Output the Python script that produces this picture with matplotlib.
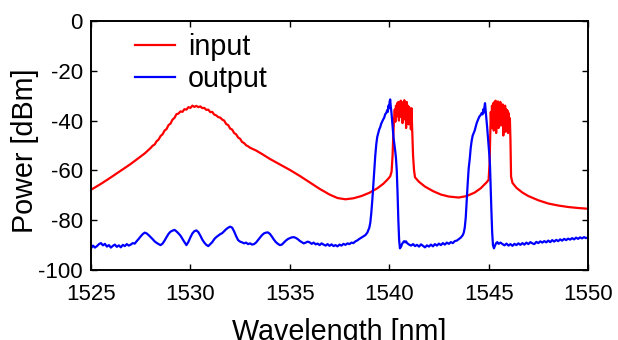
import matplotlib
matplotlib.use("Agg")
import matplotlib.pyplot as plt
import numpy as np

plt.rcParams['font.family'] = ['Liberation Sans', 'DejaVu Sans']

# Input spectrum (red)
input_wl = [
    1525.0, 1525.5, 1526.0, 1526.5, 1527.0, 1527.4, 1527.7, 1528.0,
    1528.1, 1528.2, 1528.3, 1528.4, 1528.5, 1528.6, 1528.7, 1528.8, 1528.9, 1529.0,
    1529.1, 1529.2, 1529.3, 1529.4, 1529.5, 1529.6, 1529.7, 1529.8, 1529.9, 1530.0,
    1530.1, 1530.2, 1530.3, 1530.4, 1530.5, 1530.6, 1530.7, 1530.8, 1530.9, 1531.0,
    1531.1, 1531.2, 1531.3, 1531.4, 1531.5, 1531.6, 1531.7, 1531.8, 1531.9, 1532.0,
    1532.1, 1532.2, 1532.3, 1532.4, 1532.5, 1532.6, 1532.7, 1532.8, 1532.9, 1533.0,
    1533.3, 1533.6, 1534.0, 1534.5, 1535.0, 1535.5, 1536.0, 1536.5, 1537.0, 1537.4,
    1537.8, 1538.2, 1538.6, 1539.0, 1539.4, 1539.7, 1539.9, 1540.05, 1540.12, 1540.17,
    1540.2, 1540.24, 1540.28, 1540.31, 1540.34, 1540.37, 1540.40, 1540.43, 1540.46, 1540.49,
    1540.52, 1540.55, 1540.58, 1540.61, 1540.64, 1540.67, 1540.70, 1540.73, 1540.76, 1540.79,
    1540.82, 1540.85, 1540.88, 1540.91, 1540.94, 1540.97, 1541.00, 1541.03, 1541.06, 1541.09,
    1541.12, 1541.16, 1541.2, 1541.25, 1541.3, 1541.5, 1541.8, 1542.2, 1542.6, 1543.0,
    1543.5, 1543.9, 1544.3, 1544.6, 1544.9, 1545.0, 1545.05, 1545.08, 1545.11, 1545.14,
    1545.17, 1545.20, 1545.23, 1545.26, 1545.29, 1545.32, 1545.35, 1545.38, 1545.41, 1545.44,
    1545.47, 1545.50, 1545.53, 1545.56, 1545.59, 1545.62, 1545.65, 1545.68, 1545.71, 1545.74,
    1545.77, 1545.80, 1545.83, 1545.86, 1545.89, 1545.92, 1545.95, 1545.98, 1546.01, 1546.04,
    1546.07, 1546.10, 1546.13, 1546.2, 1546.4, 1546.7, 1547.0, 1547.5, 1548.0, 1548.5,
    1549.0, 1549.5, 1550.0,
]
input_dbm = [
    -67.8, -65.4, -62.8, -60.1, -57.4, -55.0, -53.2, -51.0,
    -50.1, -49.6, -48.3, -47.6, -46.2, -45.5, -44.0, -43.4, -41.8, -41.2,
    -39.6, -38.9, -37.4, -37.2, -36.3, -36.5, -35.4, -35.6, -34.6, -34.9,
    -34.0, -34.5, -34.1, -34.6, -34.3, -35.0, -34.9, -35.7, -35.6, -36.6,
    -36.5, -37.6, -37.9, -38.6, -38.8, -39.6, -40.0, -41.4, -41.8, -43.2,
    -43.6, -45.0, -45.5, -46.8, -47.3, -48.6, -49.0, -49.9, -50.3, -50.9,
    -52.0, -53.4, -55.4, -57.6, -59.8, -62.2, -64.8, -67.4, -69.7, -71.1,
    -71.6, -71.2, -70.3, -69.0, -67.2, -65.4, -63.8, -62.4, -60.5, -54.0,
    -47.0, -40.0, -35.5, -40.5, -34.0, -38.5, -33.0, -37.5, -32.5, -40.0,
    -33.0, -38.5, -32.0, -37.0, -33.5, -41.0, -32.5, -36.5, -31.8, -39.5,
    -33.0, -43.0, -32.5, -38.0, -34.0, -41.5, -34.5, -39.0, -36.0, -43.5,
    -35.0, -45.0, -54.0, -60.0, -62.8, -64.6, -66.5, -68.3, -69.7, -70.5,
    -70.9, -70.3, -68.9, -67.2, -64.8, -63.8, -57.0, -47.0, -36.5, -43.0,
    -34.0, -41.0, -33.0, -44.0, -32.5, -39.0, -32.0, -45.0, -33.0, -38.0,
    -32.3, -43.0, -33.0, -37.5, -32.5, -42.0, -34.0, -39.0, -33.5, -46.0,
    -35.0, -40.0, -34.0, -44.5, -35.5, -41.0, -36.0, -45.0, -37.0, -42.0,
    -39.0, -48.0, -62.5, -65.0, -67.0, -68.9, -70.3, -72.0, -73.3, -74.1,
    -74.7, -75.1, -75.4,
]

# Output spectrum (blue)
output_wl = [
    1525.0, 1525.1, 1525.2, 1525.3, 1525.4, 1525.5, 1525.6, 1525.7, 1525.8, 1525.9,
    1526.0, 1526.1, 1526.2, 1526.3, 1526.4, 1526.5, 1526.6, 1526.7, 1526.8, 1526.9,
    1527.0, 1527.1, 1527.2, 1527.3, 1527.4, 1527.5, 1527.6, 1527.7, 1527.8, 1527.9,
    1528.0, 1528.1, 1528.2, 1528.3, 1528.4, 1528.5, 1528.6, 1528.7, 1528.8, 1528.9,
    1529.0, 1529.1, 1529.2, 1529.3, 1529.4, 1529.5, 1529.6, 1529.7, 1529.8, 1529.9,
    1530.0, 1530.1, 1530.2, 1530.3, 1530.4, 1530.5, 1530.6, 1530.7, 1530.8, 1530.9,
    1531.0, 1531.1, 1531.2, 1531.3, 1531.4, 1531.5, 1531.6, 1531.7, 1531.8, 1531.9,
    1532.0, 1532.1, 1532.2, 1532.3, 1532.4, 1532.5, 1532.6, 1532.7, 1532.8, 1532.9,
    1533.0, 1533.1, 1533.2, 1533.3, 1533.4, 1533.5, 1533.6, 1533.7, 1533.8, 1533.9,
    1534.0, 1534.1, 1534.2, 1534.3, 1534.4, 1534.5, 1534.6, 1534.7, 1534.8, 1534.9,
    1535.0, 1535.1, 1535.2, 1535.3, 1535.4, 1535.5, 1535.6, 1535.7, 1535.8, 1535.9,
    1536.0, 1536.1, 1536.2, 1536.3, 1536.4, 1536.5, 1536.6, 1536.7, 1536.8, 1536.9,
    1537.0, 1537.1, 1537.2, 1537.3, 1537.4, 1537.5, 1537.6, 1537.7, 1537.8, 1537.9,
    1538.0, 1538.1, 1538.2, 1538.3, 1538.4, 1538.5, 1538.6, 1538.7, 1538.8, 1538.9,
    1539.0, 1539.05, 1539.1, 1539.15, 1539.2, 1539.25, 1539.3, 1539.35, 1539.4, 1539.5,
    1539.55, 1539.6, 1539.7, 1539.75, 1539.8, 1539.85, 1539.9, 1539.93, 1539.96, 1540.0,
    1540.02, 1540.05, 1540.08, 1540.11, 1540.14, 1540.18, 1540.22, 1540.26, 1540.3, 1540.34,
    1540.38, 1540.42, 1540.46, 1540.5, 1540.54, 1540.6, 1540.65, 1540.7, 1540.75, 1540.8,
    1540.85, 1540.9, 1541.0, 1541.1, 1541.2, 1541.3, 1541.4, 1541.5, 1541.6, 1541.7,
    1541.8, 1541.9, 1542.0, 1542.1, 1542.2, 1542.3, 1542.4, 1542.5, 1542.6, 1542.7,
    1542.8, 1542.9, 1543.0, 1543.1, 1543.2, 1543.3, 1543.4, 1543.5, 1543.6, 1543.7,
    1543.75, 1543.8, 1543.85, 1543.9, 1543.95, 1544.0, 1544.05, 1544.1, 1544.15, 1544.2,
    1544.3, 1544.35, 1544.4, 1544.45, 1544.5, 1544.55, 1544.6, 1544.65, 1544.7, 1544.73,
    1544.76, 1544.8, 1544.82, 1544.85, 1544.88, 1544.92, 1544.96, 1545.0, 1545.04, 1545.07,
    1545.1, 1545.14, 1545.18, 1545.22, 1545.27, 1545.32, 1545.38, 1545.44, 1545.5, 1545.6,
    1545.7, 1545.8, 1545.9, 1546.0, 1546.1, 1546.2, 1546.3, 1546.4, 1546.5, 1546.6,
    1546.7, 1546.8, 1546.9, 1547.0, 1547.1, 1547.2, 1547.3, 1547.4, 1547.5, 1547.6,
    1547.7, 1547.8, 1547.9, 1548.0, 1548.1, 1548.2, 1548.3, 1548.4, 1548.5, 1548.6,
    1548.7, 1548.8, 1548.9, 1549.0, 1549.1, 1549.2, 1549.3, 1549.4, 1549.5, 1549.6,
    1549.7, 1549.8, 1549.9, 1550.0,
]
output_dbm = [
    -91.3, -90.2, -91.0, -90.4, -89.6, -89.2, -90.1, -89.5, -90.6, -90.0,
    -91.0, -90.3, -89.8, -90.7, -90.1, -90.9, -89.9, -90.4, -89.6, -90.2,
    -89.8, -89.2, -89.4, -88.4, -87.5, -86.5, -85.6, -85.0, -85.3, -86.0,
    -86.8, -87.6, -88.5, -89.1, -89.6, -90.0, -89.4, -88.2, -86.8, -85.5,
    -84.6, -84.2, -83.9, -84.5, -85.3, -86.2, -87.5, -88.8, -90.0, -88.7,
    -86.9, -85.3, -84.4, -84.1, -84.8, -86.2, -87.8, -89.0, -89.9, -90.4,
    -89.6, -88.8, -87.6, -86.8, -86.2, -85.6, -85.2, -84.4, -83.6, -83.0,
    -82.6, -83.0, -84.5, -86.4, -88.0, -88.6, -88.9, -89.3, -89.0, -89.6,
    -89.3, -89.8, -89.6, -89.0, -88.0, -87.0, -86.0, -85.3, -85.0, -84.9,
    -85.5, -86.6, -87.8, -88.8, -89.5, -90.0, -89.8, -89.0, -88.2, -87.6,
    -87.2, -86.9, -86.8, -87.1, -87.6, -88.3, -88.8, -89.3, -89.0, -88.6,
    -88.9, -89.5, -89.0, -89.7, -89.4, -90.0, -89.3, -89.8, -90.2, -89.6,
    -90.3, -89.7, -90.4, -90.0, -90.5, -89.8, -90.2, -89.5, -89.9, -89.3,
    -89.6, -89.0, -89.2, -88.5, -88.1, -87.5, -87.0, -86.5, -86.0, -85.0,
    -83.0, -81.0, -77.0, -72.0, -66.0, -60.0, -54.0, -49.5, -46.5, -43.5,
    -42.6, -41.2, -39.5, -38.8, -37.4, -37.0, -35.8, -36.5, -34.0, -35.0,
    -32.5, -31.5, -34.5, -36.5, -39.5, -43.5, -47.0, -49.5, -52.0, -55.0,
    -60.0, -69.0, -80.0, -88.0, -91.3, -90.6, -89.5, -88.9, -88.4, -88.9,
    -88.5, -89.2, -89.8, -90.2, -89.6, -90.4, -89.9, -90.6, -89.7, -90.3,
    -90.9, -90.1, -90.6, -89.8, -90.5, -89.6, -90.2, -89.4, -90.0, -89.2,
    -89.8, -89.0, -89.5, -88.8, -89.2, -88.4, -88.2, -87.6, -87.0, -86.0,
    -85.0, -83.0, -79.0, -72.0, -65.0, -59.0, -55.5, -51.0, -48.0, -46.0,
    -44.0, -42.5, -41.0, -40.0, -39.0, -38.2, -37.8, -37.0, -37.5, -35.5,
    -36.8, -34.0, -33.0, -36.0, -38.5, -42.0, -46.0, -49.5, -54.0, -58.0,
    -66.0, -76.0, -85.0, -90.0, -91.3, -90.2, -89.2, -88.8, -89.5, -89.0,
    -89.6, -90.1, -89.4, -90.2, -89.6, -90.3, -89.5, -90.0, -89.3, -89.9,
    -89.2, -89.8, -89.0, -89.6, -88.8, -89.3, -89.6, -88.7, -89.2, -88.5,
    -89.0, -88.4, -88.9, -88.2, -88.8, -88.0, -88.6, -87.9, -88.4, -87.7,
    -88.2, -87.5, -88.0, -87.4, -87.8, -87.2, -87.7, -87.0, -87.5, -86.9,
    -87.3, -86.8, -87.2, -86.9,
]

x_ticks = [1525, 1530, 1535, 1540, 1545, 1550]
y_ticks = [0, -20, -40, -60, -80, -100]

fig = plt.figure(figsize=(6.18, 3.4), dpi=100)
ax = fig.add_axes([91 / 618, 1 - 270 / 340, (588 - 91) / 618, (270 - 21) / 340])

ax.plot(input_wl, input_dbm, color='#ff0000', lw=1.6, label='input')
ax.plot(output_wl, output_dbm, color='#0000ff', lw=1.6, label='output')

ax.set_xlim(1525, 1550)
ax.set_ylim(-100, 0)
ax.set_xticks(x_ticks)
ax.set_yticks(y_ticks)
ax.set_xticklabels([str(v) for v in x_ticks])
ax.set_yticklabels([str(v) for v in y_ticks])

for sp in ax.spines.values():
    sp.set_linewidth(1.4)
ax.tick_params(direction='in', length=4, width=1, top=True, right=True,
               labelsize=16)
ax.tick_params(axis='x', pad=10)
ax.tick_params(axis='y', pad=6)

ax.set_xlabel('Wavelength [nm]', fontsize=20.7)
ax.set_ylabel('Power [dBm]', fontsize=20.7)
ax.xaxis.set_label_coords(339.5 / 618, 0.0, transform=fig.transFigure)
ax.xaxis.label.set_verticalalignment('baseline')
ax.yaxis.set_label_coords(32.7 / 618, 1 - 150.5 / 340, transform=fig.transFigure)
ax.yaxis.label.set_verticalalignment('baseline')

ax.legend(loc='upper left', bbox_to_anchor=((135 - 91) / 497, 0.951),
          frameon=False, fontsize=20.7, handlelength=1.4, handletextpad=0.45,
          labelspacing=0.12, borderpad=0, borderaxespad=0)

fig.savefig('out.png', dpi=100)
